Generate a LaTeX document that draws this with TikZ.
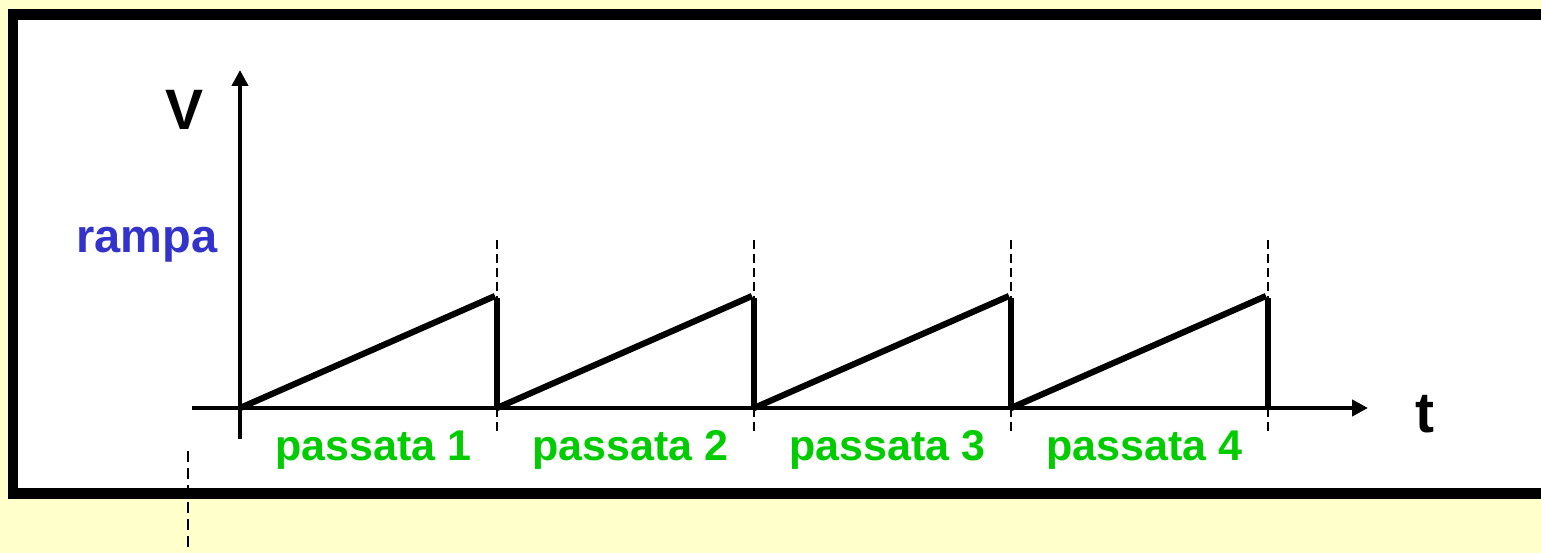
\documentclass[tikz,border=0pt]{standalone}
\usepackage{fontspec}
\setmainfont{Liberation Sans}
\usetikzlibrary{arrows.meta}
\definecolor{paper}{HTML}{FFFFCC}
\definecolor{rampblue}{RGB}{51,51,204}
\definecolor{passgreen}{RGB}{0,204,0}
\tikzset{
  axis/.style={line width=4.3pt, -{Triangle[length=16pt,width=16pt]}},
  plainaxis/.style={line width=4.3pt},
  ramp/.style={line width=6.2pt},
  marker/.style={line width=2.5pt, dash pattern=on 9pt off 5pt},
  guide/.style={line width=1.9pt, dash pattern=on 11pt off 6pt},
  axislabel/.style={font=\bfseries\fontsize{57}{57}\selectfont, anchor=base, inner sep=0pt},
  ramplabel/.style={font=\bfseries\fontsize{47}{47}\selectfont, text=rampblue, anchor=base, inner sep=0pt},
  passlabel/.style={font=\bfseries\fontsize{43}{43}\selectfont, text=passgreen, anchor=base, inner sep=0pt}
}
\begin{document}
\begin{tikzpicture}[x=1pt,y=-1pt]
  \useasboundingbox (0,0) rectangle (1541,553);
  \clip (0,0) rectangle (1541,553);
  \fill[paper] (0,0) rectangle (1541,553);
  % framed white panel
  \draw[line width=10.5pt, fill=white] (13,14.5) rectangle (1570,493.5);

  % axes
  \coordinate (O) at (240,408);
  \coordinate (ytip) at (240,70);
  \coordinate (ybot) at (240,439);
  \coordinate (xstart) at (192,408);
  \coordinate (xtip) at (1368,408);
  \draw[plainaxis] (ybot) -- (O);
  \draw[axis] (O) -- (ytip);
  \draw[plainaxis] (xstart) -- (O);
  \draw[axis] (O) -- (xtip);

  % sawtooth with period markers
  \foreach \i in {1,...,4} {
    \pgfmathsetmacro{\xa}{240+257*(\i-1)}
    \pgfmathsetmacro{\xb}{240+257*\i}
    \coordinate (s\i) at (\xa,408);
    \coordinate (p\i) at (\xb-2,296);
    \coordinate (d\i) at (\xb,298);
    \coordinate (e\i) at (\xb,408);
    \coordinate (mt\i) at (\xb,240);
    \coordinate (mb\i) at (\xb,434);
    \draw[ramp] (s\i) -- (p\i);
    \draw[ramp] (d\i) -- (e\i);
    \draw[marker] (mt\i) -- (d\i);
    \draw[marker] (e\i) -- (mb\i);
    \node[passlabel] (pass\i) at (\xa+133.5,460) {passata \i};
  }

  % guide line below the panel
  \coordinate (g1) at (188,451);
  \coordinate (g2) at (188,553);
  \draw[guide] (g1) -- (g2);

  % labels
  \node[axislabel] (V) at (184.5,130) {V};
  \node[axislabel] (t) at (1424.5,432) {t};
  \node[ramplabel] (rampa) at (147,253) {rampa};
\end{tikzpicture}
\end{document}
